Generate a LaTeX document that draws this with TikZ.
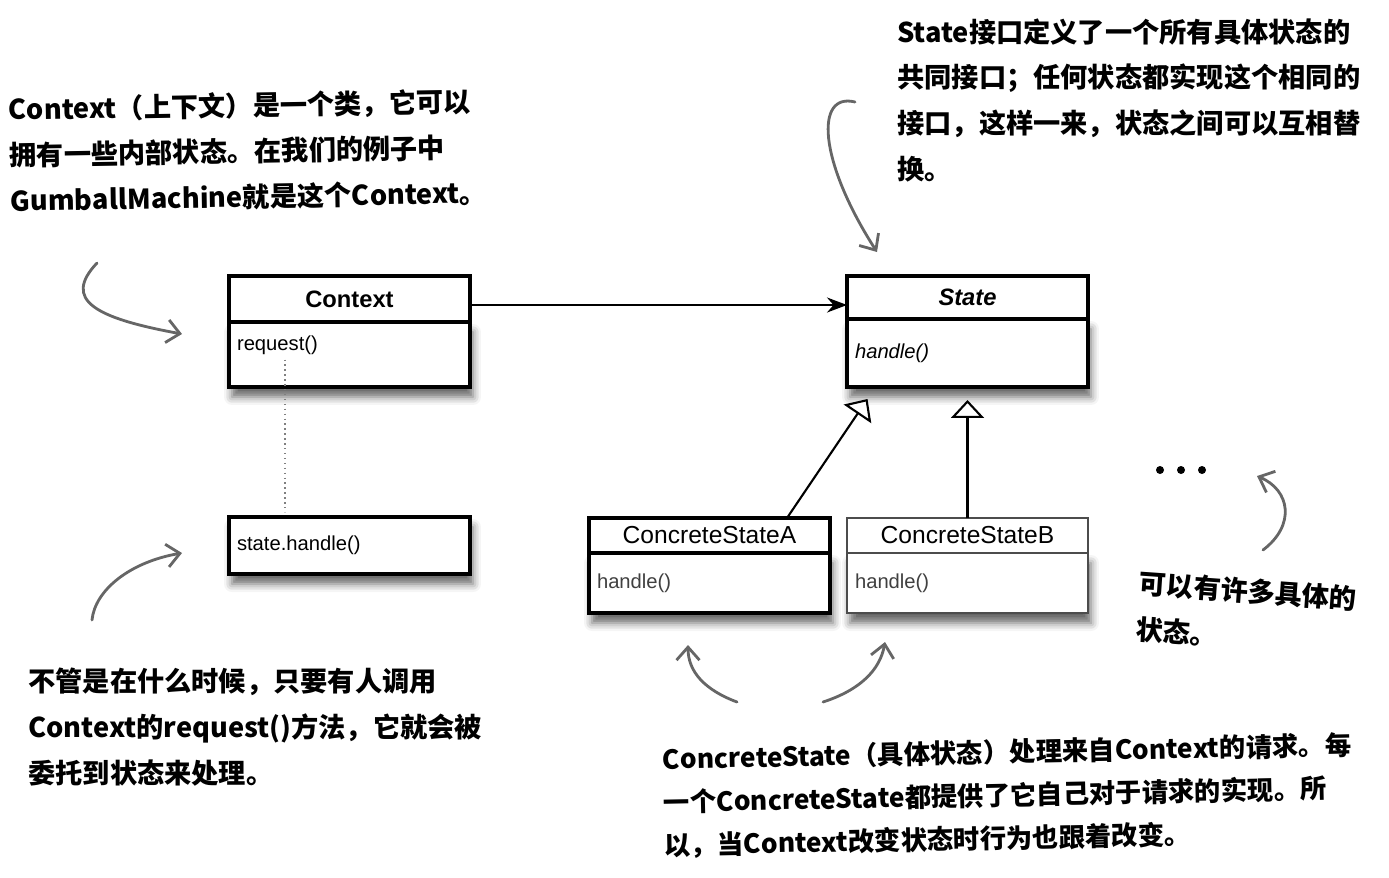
\documentclass[tikz,border=0pt]{standalone}
\usepackage{fontspec}
\setmainfont{Liberation Sans}
\newfontfamily\cjk{Noto Sans CJK SC}
\usetikzlibrary{arrows.meta,positioning,shadows.blur}

\begin{document}
\begin{tikzpicture}[
  x=0.02cm,y=-0.02cm,
  hdr/.style={draw,line width=2pt,fill=white,minimum width=4.82cm,inner sep=0pt,
    outer sep=0pt,font=\fontsize{13.5}{16}\selectfont\bfseries},
  body/.style={draw,line width=2pt,fill=white,minimum width=4.82cm,inner xsep=0.16cm,
    outer sep=0pt,text width=4.5cm,align=left,font=\fontsize{11.5}{14}\selectfont,
    blur shadow={shadow xshift=0.06cm,shadow yshift=-0.2cm,shadow blur radius=0.16cm,
    shadow opacity=60}},
  note/.style={anchor=north west,inner sep=0pt,align=left,
    font=\cjk\fontsize{15.5}{26}\selectfont\bfseries},
  assoc/.style={-{Stealth[length=0.4cm,width=0.3cm]},line width=1.2pt},
  inh/.style={-{Triangle[open,length=0.36cm,width=0.66cm,fill=white]},line width=1.2pt},
  hint/.style={-{Straight Barb[length=0.26cm,width=0.46cm]},line width=1.6pt,
    draw=black!60,line cap=round}
]
\useasboundingbox (0,0) rectangle (1389,877);

% classes
\node[hdr,minimum height=0.92cm] (ctx) at (349.5,299) {Context};
\node[body,below=0pt of ctx,minimum height=1.3cm,text depth=0.45cm] (ctxb) {request()};
\node[body,minimum height=1.14cm] (sh) at (349.5,545.5) {state.handle()};

\node[hdr,minimum height=0.86cm,font=\fontsize{13.5}{16}\selectfont\bfseries\itshape]
  (st) at (967.5,297.5) {State};
\node[body,below=0pt of st,minimum height=1.36cm,
  font=\fontsize{11.5}{14}\selectfont\itshape] (stb) {handle()};

\node[hdr,minimum height=0.7cm,font=\fontsize{14}{16}\selectfont] (csA) at (709.5,535.5)
  {ConcreteStateA};
\node[body,below=0pt of csA,minimum height=1.2cm,text=black!75] (csAb) {handle()};
\node[hdr,minimum height=0.7cm,line width=0.9pt,draw=black!70,
  font=\fontsize{14}{16}\selectfont] (csB) at (967.5,535.5) {ConcreteStateB};
\node[body,below=0pt of csB,minimum height=1.2cm,line width=0.9pt,draw=black!70,
  text=black!75] (csBb) {handle()};

\draw[assoc] ([yshift=-0.12cm]ctx.east) -- ([yshift=-0.12cm]ctx.east -| st.west);
\draw[dotted,draw=black!50,line width=0.8pt] ([xshift=1.12cm,yshift=-0.1cm]ctxb.west)
  -- ([xshift=1.12cm,yshift=0.1cm]sh.north west);
\draw[inh] ([xshift=1.55cm]csA.north) -- ([xshift=-2cm,yshift=-0.24cm]stb.south);
\draw[inh] (csB.north) -- ([yshift=-0.26cm]stb.south);

\foreach \x in {1160,1181,1202}
  \fill (\x,470) circle (0.08cm);

% notes
\node[note,rotate=1] (ctxnote) at (8,96)
  {Context（上下文）是一个类，它可以\\拥有一些内部状态。在我们的例子中\\GumballMachine就是这个Context。};
\node[note] (stnote) at (897,18)
  {State接口定义了一个所有具体状态的\\共同接口；任何状态都实现这个相同的\\接口，这样一来，状态之间可以互相替\\换。};
\node[note] (reqnote) at (28,668)
  {不管是在什么时候，只要有人调用\\Context的request()方法，它就会被\\委托到状态来处理。};
\node[note,rotate=1.2,font=\cjk\fontsize{15}{24.5}\selectfont\bfseries] (csnote)
  at (662,746)
  {ConcreteState（具体状态）处理来自Context的请求。每\\一个ConcreteState都提供了它自己对于请求的实现。所\\以，当Context改变状态时行为也跟着改变。};
\node[note,rotate=-4] (morenote) at (1140,570) {可以有许多具体的\\状态。};

% hand-drawn pointers
\coordinate (p1s) at (97,263);   \coordinate (p1e) at (182,334);
\coordinate (p2s) at (92,620);   \coordinate (p2e) at (182,553);
\coordinate (p3s) at (855,102);  \coordinate (p3e) at (877,252);
\coordinate (p4s) at (737,702);  \coordinate (p4e) at (688,645);
\coordinate (p5s) at (823,702);  \coordinate (p5e) at (885,642);
\coordinate (p6s) at (1263,550); \coordinate (p6e) at (1257,476);
\draw[hint] (p1s) .. controls (62,300) and (95,318) .. (p1e);
\draw[hint] (p2s) .. controls (95,590) and (130,562) .. (p2e);
\draw[hint] (p3s) .. controls (815,92) and (818,160) .. (p3e);
\draw[hint] (p4s) .. controls (705,690) and (688,672) .. (p4e);
\draw[hint] (p5s) .. controls (860,690) and (880,670) .. (p5e);
\draw[hint] (p6s) .. controls (1296,525) and (1290,490) .. (p6e);
\end{tikzpicture}
\end{document}
